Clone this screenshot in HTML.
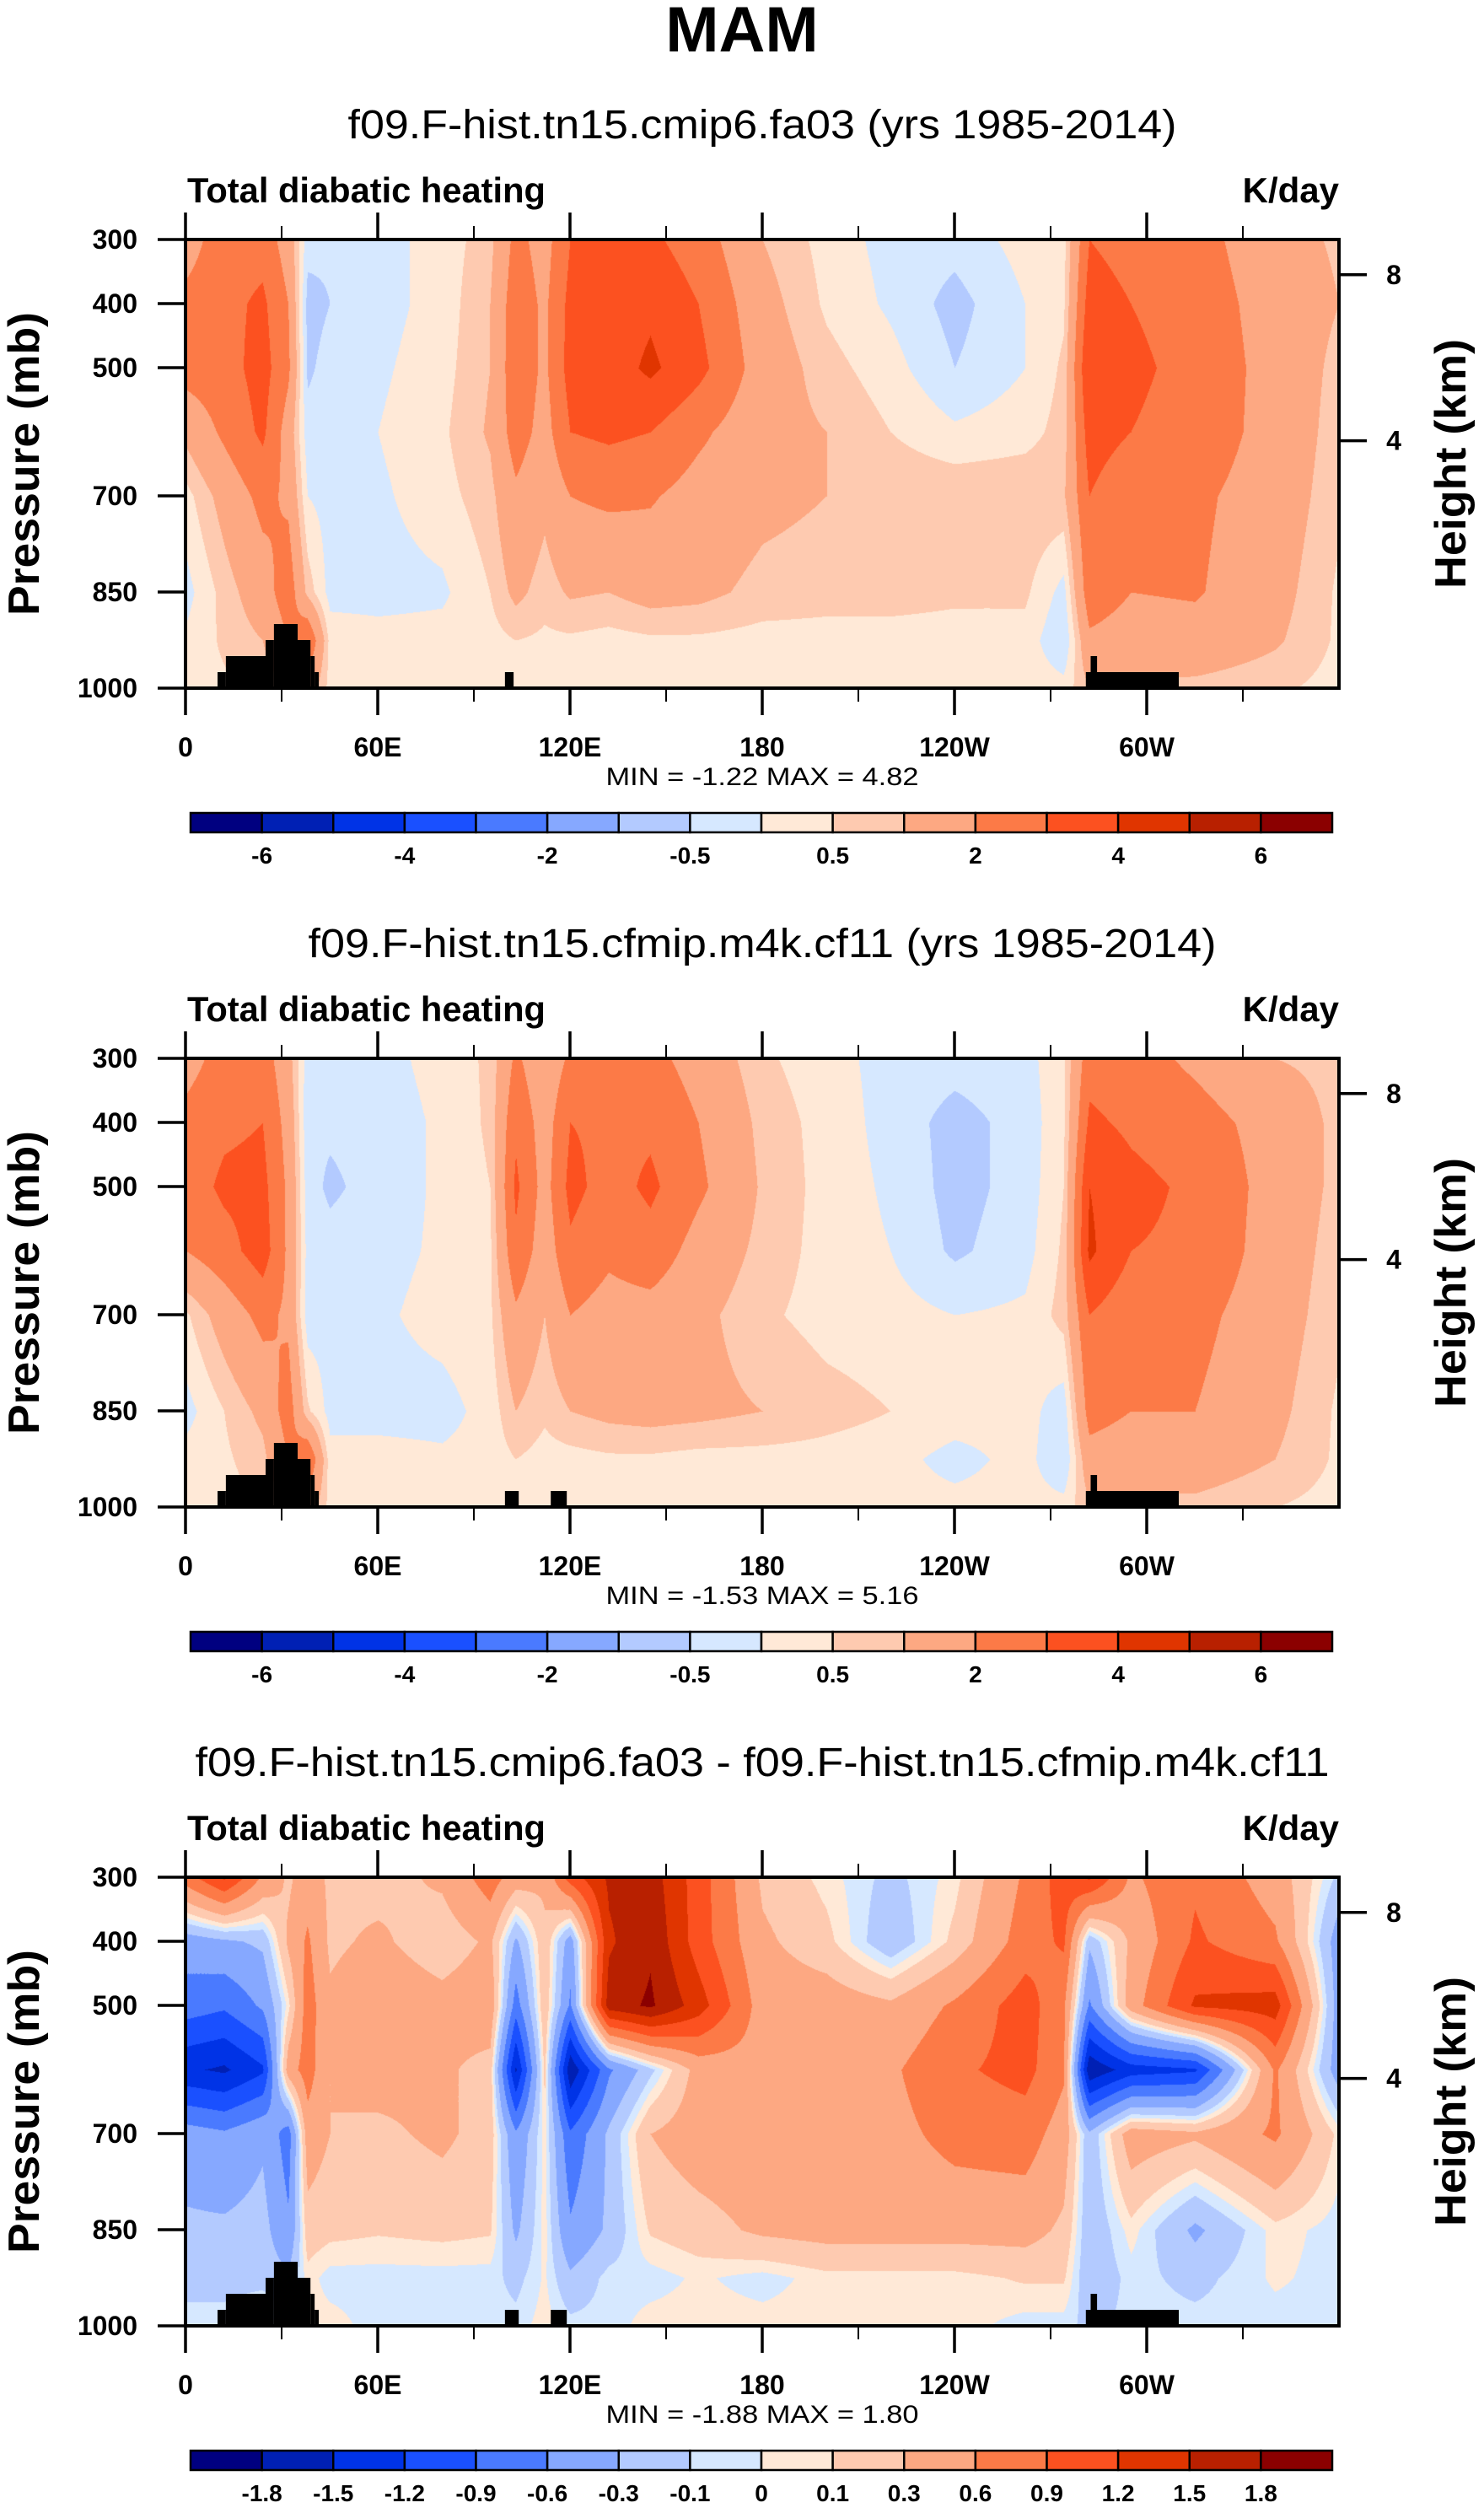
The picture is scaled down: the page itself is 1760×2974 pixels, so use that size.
<!DOCTYPE html>
<html><head><meta charset="utf-8">
<style>
html,body{margin:0;padding:0;background:#fff;}
#root{position:relative;width:1760px;height:2974px;overflow:hidden;background:#fff;}
canvas{position:absolute;}
svg{position:absolute;left:0;top:0;}
text{font-family:"Liberation Sans",Arial,sans-serif;fill:#000;}
</style></head>
<body>
<div id="root">
<canvas id="c0"></canvas>
<canvas id="c1"></canvas>
<canvas id="c2"></canvas>
<svg id="ov" width="1760" height="2974"></svg>
</div>
<script>
// ---- data ----
const lons = [0,12,24,32,38,45,60,80,95,103,112,120,132,145,160,180,200,220,240,262,274,282,295,315,340,360];
const levels = [300,400,500,600,700,850,925,1000];
const dataA = [
[1.5,2.6,2.6,1.5,-0.3,-0.4,-0.2,0.2,0.8,2.3,1.6,3.0,3.2,3.2,2.5,1.0,0.3,-0.2,-0.3,0.2,0.3,3.0,2.6,2.4,1.3,0.9],
[2.3,2.7,3.2,2.0,-0.7,-0.5,-0.2,0.2,1.0,2.6,1.8,3.3,3.4,3.8,3.0,1.3,0.4,-0.1,-0.7,0.0,0.4,3.5,3.0,2.6,1.5,1.0],
[2.4,2.6,3.4,2.2,-0.6,-0.3,-0.1,0.3,1.0,2.7,1.8,3.4,3.5,4.2,3.3,1.5,0.7,0.2,-0.5,0.0,0.6,4.0,3.2,2.7,1.6,0.8],
[1.2,2.2,3.2,1.5,-0.3,-0.2,0.0,0.4,1.1,2.5,1.6,3.0,3.2,3.0,2.2,1.3,1.0,0.5,0.1,0.3,0.7,3.5,3.0,2.6,1.6,0.7],
[0.3,1.3,2.3,1.8,0.0,-0.2,-0.1,0.3,0.8,1.8,1.2,2.0,2.2,2.1,1.6,1.2,1.0,0.9,0.9,0.9,0.9,3.0,2.2,2.2,1.5,0.6],
[-0.2,0.7,1.5,2.6,0.8,-0.2,-0.2,-0.1,0.5,1.2,0.7,1.1,1.0,1.3,1.2,0.8,0.7,0.7,0.6,0.6,-0.2,2.6,2.0,2.1,1.3,0.4],
[0.1,0.6,1.0,2.0,3.0,0.3,0.2,0.2,0.3,0.5,0.4,0.4,0.3,0.4,0.4,0.3,0.3,0.3,0.3,0.3,-0.5,1.8,1.5,1.6,1.1,0.4],
[0.3,0.4,0.6,1.0,1.5,0.3,0.2,0.2,0.2,0.3,0.2,0.2,0.2,0.2,0.2,0.2,0.2,0.2,0.2,0.3,0.2,1.0,0.9,0.8,0.6,0.3]];
const dataB = [
[1.6,2.4,2.5,1.3,-0.3,-0.3,-0.2,0.2,0.6,2.2,1.2,2.2,2.3,2.3,1.6,0.6,0.2,-0.2,-0.3,-0.2,0.4,2.6,2.4,1.8,1.0,0.8],
[2.3,2.8,3.0,1.6,-0.4,-0.4,-0.3,0.1,0.6,2.8,1.5,3.0,2.8,2.8,2.0,0.8,0.3,-0.2,-0.7,-0.3,0.4,3.2,2.8,2.4,1.6,0.8],
[2.5,3.2,3.3,1.8,-0.3,-0.6,-0.3,0.1,0.5,3.2,1.6,3.3,2.6,3.2,2.2,0.9,0.3,-0.1,-0.7,-0.3,0.5,4.0,3.3,2.8,1.6,0.8],
[2.0,2.6,3.5,1.8,-0.2,-0.3,-0.2,0.1,0.4,2.8,1.4,2.8,2.2,2.6,1.6,0.8,0.3,0.0,-0.6,-0.2,0.6,4.2,3.0,2.8,1.5,0.7],
[0.4,1.4,2.3,1.8,-0.3,-0.2,-0.1,0.2,0.4,1.8,1.0,2.0,1.6,1.6,1.2,0.6,0.3,0.2,0.0,0.1,0.7,3.0,2.3,2.3,1.4,0.6],
[-0.2,0.5,1.2,2.5,0.6,-0.2,-0.2,-0.2,0.2,1.0,0.6,1.0,1.2,1.3,1.2,1.0,0.7,0.5,0.3,0.2,-0.3,2.4,2.0,2.0,1.2,0.4],
[0.2,0.4,0.8,2.0,3.0,0.2,0.2,0.1,0.2,0.5,0.3,0.3,0.4,0.4,0.3,0.3,0.3,0.2,-0.2,0.2,-0.5,1.6,1.4,1.5,1.0,0.4],
[0.3,0.3,0.5,0.8,1.5,0.3,0.2,0.2,0.2,0.2,0.2,0.2,0.2,0.2,0.2,0.2,0.2,0.2,0.2,0.2,0.2,0.9,0.8,0.8,0.5,0.3]];
const dataC = [
[0.75,1.25,0.55,0.25,0.45,0.25,0.2,0.35,0.75,0.45,0.35,1.05,1.55,1.65,1.05,0.25,0.05,-0.15,0.05,0.65,1.05,1.25,0.55,0.85,0.45,-0.15],
[-0.45,-0.35,-0.25,0.35,0.65,0.25,0.35,0.15,0.35,-0.35,0.25,-0.45,1.45,1.75,1.05,0.35,0.15,-0.25,0.15,0.75,0.95,-0.25,0.35,0.95,0.65,-0.45],
[-0.75,-0.85,-0.55,0.05,0.75,0.35,0.5,0.4,0.5,-0.75,0.25,-0.65,1.65,1.85,1.35,0.45,0.45,0.35,0.65,1.05,0.65,-0.65,0.45,1.25,1.35,-0.45],
[-1.45,-1.55,-1.25,0.45,0.75,0.3,0.4,0.35,0.2,-1.55,0.15,-1.75,-0.65,-0.15,0.4,0.5,0.5,0.55,0.85,1.0,0.65,-1.75,-1.35,-1.25,0.65,-0.45],
[-0.45,-0.55,-0.35,-0.75,0.45,0.3,0.25,0.35,0.2,-0.55,0.05,-0.85,-0.25,0.3,0.45,0.5,0.5,0.5,0.7,0.75,0.45,-0.25,0.45,0.35,0.65,0.05],
[-0.25,-0.25,-0.2,-0.55,0.2,0.15,0.12,0.15,0.12,-0.35,0.05,-0.55,-0.25,0.12,0.2,0.35,0.4,0.4,0.4,0.4,0.25,-0.25,0.05,-0.35,0.05,-0.05],
[-0.15,-0.15,-0.15,-0.25,0.05,-0.05,-0.05,-0.05,-0.05,-0.15,0.02,-0.25,-0.05,-0.05,0.02,-0.05,0.05,0.05,0.05,0.12,0.12,-0.25,-0.05,-0.15,0.02,-0.05],
[-0.05,-0.05,0.05,-0.05,0.05,0.05,-0.05,-0.05,-0.05,-0.05,0.05,-0.05,-0.05,0.05,0.05,0.05,0.05,0.05,0.05,-0.05,-0.05,-0.15,-0.05,-0.05,-0.05,-0.05]];
const boundsAB = [-6,-5,-4,-3,-2,-1,-0.5,0,0.5,1,2,3,4,5,6];
const boundsC = [-1.8,-1.5,-1.2,-0.9,-0.6,-0.3,-0.1,0,0.1,0.3,0.6,0.9,1.2,1.5,1.8];
const cbLabelsAB = ["","-6","","-4","","-2","","-0.5","","0.5","","2","","4","","6",""];
const cbLabelsC = ["","-1.8","-1.5","-1.2","-0.9","-0.6","-0.3","-0.1","0","0.1","0.3","0.6","0.9","1.2","1.5","1.8",""];
const titles = ["f09.F-hist.tn15.cmip6.fa03 (yrs 1985-2014)","f09.F-hist.tn15.cfmip.m4k.cf11 (yrs 1985-2014)","f09.F-hist.tn15.cmip6.fa03 - f09.F-hist.tn15.cfmip.m4k.cf11"];
const titleWidths = [983,1077,1345];
const minmax = ["MIN =  -1.22  MAX =   4.82","MIN =  -1.53  MAX =   5.16","MIN =  -1.88  MAX =   1.80"];
const maskA = [[10,12.6,975],[12.6,25,950],[25,27.6,925],[27.6,35,900],[35,39,925],[39,40.3,950],[40.3,41.6,975],[99.7,102.4,975],[281,310,975],[282.5,284.5,950]];
const maskB = [[10,12.6,975],[12.6,25,950],[25,27.6,925],[27.6,35,900],[35,39,925],[39,40.3,950],[40.3,41.6,975],[99.7,104,975],[114,119,975],[281,310,975],[282.5,284.5,950]];
const xTickVals = [0,60,120,180,240,300];
const xTickLabels = ["0","60E","120E","180","120W","60W"];
const pTicks = [300,400,500,700,850,1000];
const hTicks = [8,4];
const hTickP = [355,614];
const colors = ['#000080','#0020b4','#0033e6','#1a50ff','#4a7aff','#86a8ff','#b3caff','#d6e8ff','#ffe9d7','#fecab0','#fda882','#fc7a47','#fc5120','#e03500','#b82000','#8b0000'];

// ---- layout ----
const L=220, R=1588, W=R-L, H=532;
const tops=[284,1255,2226];
const NS='http://www.w3.org/2000/svg';
const ov=document.getElementById('ov');
function xs(lon){return L + lon/360*W;}
function ys(T,p){return T + (p-300)/700*H;}
function mk(tag,attrs,parent){const e=document.createElementNS(NS,tag);for(const k in attrs)e.setAttribute(k,attrs[k]);(parent||ov).appendChild(e);return e;}
function txt(s,attrs){const e=mk('text',attrs);e.textContent=s;return e;}

function interp(data,lon,p){
  let i=0; while(i<lons.length-2 && lon>lons[i+1]) i++;
  let j=0; while(j<levels.length-2 && p>levels[j+1]) j++;
  const tx=Math.max(0,Math.min(1,(lon-lons[i])/(lons[i+1]-lons[i])));
  const ty=Math.max(0,Math.min(1,(p-levels[j])/(levels[j+1]-levels[j])));
  const a=data[j][i],b=data[j][i+1],c=data[j+1][i],d=data[j+1][i+1];
  return (a*(1-tx)+b*tx)*(1-ty)+(c*(1-tx)+d*tx)*ty;
}
function hex(c){return [parseInt(c.substr(1,2),16),parseInt(c.substr(3,2),16),parseInt(c.substr(5,2),16)];}
const rgb=colors.map(hex);

const datasets=[dataA,dataB,dataC];
const boundsSet=[boundsAB,boundsAB,boundsC];
const cbLabSet=[cbLabelsAB,cbLabelsAB,cbLabelsC];
const masks=[maskA,maskB,maskB];

txt('MAM',{x:880,y:61,'font-size':76,'font-weight':'bold','text-anchor':'middle',});

for(let k=0;k<3;k++){
  const T=tops[k], data=datasets[k], bounds=boundsSet[k];
  const cv=document.getElementById('c'+k);
  cv.width=W; cv.height=H; cv.style.left=L+'px'; cv.style.top=T+'px';
  const ctx=cv.getContext('2d'); const img=ctx.createImageData(W,H);
  for(let y=0;y<H;y++){const p=300+y/H*700;
    for(let x=0;x<W;x++){const lon=x/W*360; const v=interp(data,lon,p);
      let idx=0; while(idx<bounds.length && v>=bounds[idx]) idx++;
      const c=rgb[idx]; const o=(y*W+x)*4; img.data[o]=c[0];img.data[o+1]=c[1];img.data[o+2]=c[2];img.data[o+3]=255;}}
  ctx.putImageData(img,0,0);
  const g=mk('g',{});
  
  
  masks[k].forEach(m=>{
    const r=mk('rect',{x:xs(m[0]),y:ys(T,m[2]),width:xs(m[1])-xs(m[0]),height:ys(T,1000)-ys(T,m[2]),fill:'#000'},g);
    
    
  });
  const fr=mk('rect',{x:L,y:T,width:W,height:H,fill:'none',stroke:'#000','stroke-width':4},g);
  
  
  for(let lon=0;lon<360;lon+=30){
    const major=lon%60===0, len=major?32:16, sw=major?3.5:2;
    mk('line',{x1:xs(lon),x2:xs(lon),y1:T,y2:T-len,stroke:'#000','stroke-width':sw},g);
    mk('line',{x1:xs(lon),x2:xs(lon),y1:T+H,y2:T+H+len,stroke:'#000','stroke-width':sw},g);
  }
  xTickVals.forEach((v,i)=>{const t=txt(xTickLabels[i],{x:xs(v),y:T+613,'font-size':32,'font-weight':'bold','text-anchor':'middle'});
    
    });
  pTicks.forEach(p=>{mk('line',{x1:L-33,x2:L,y1:ys(T,p),y2:ys(T,p),stroke:'#000','stroke-width':3.5},g);
    const t=txt(String(p),{x:163,y:ys(T,p)+11,'font-size':32,'font-weight':'bold','text-anchor':'end'});
    
    });
  hTicks.forEach((h,i)=>{const y=ys(T,hTickP[i]);mk('line',{x1:R,x2:R+33,y1:y,y2:y,stroke:'#000','stroke-width':3.5},g);
    const t=txt(String(h),{x:1653,y:y+11,'font-size':32,'font-weight':'bold','text-anchor':'middle'});
    
    });
  const st=txt(titles[k],{x:904,y:T-120,'font-size':48,'text-anchor':'middle',textLength:titleWidths[k],lengthAdjust:'spacingAndGlyphs'});
  
  
  const lt=txt('Total diabatic heating',{x:222,y:T-44,'font-size':42,'font-weight':'bold',textLength:425,lengthAdjust:'spacingAndGlyphs'});
  
  
  const ut=txt('K/day',{x:1588,y:T-44,'font-size':42,'font-weight':'bold','text-anchor':'end'});
  
  
  const yt=txt('Pressure (mb)',{x:0,y:0,'font-size':52,'font-weight':'bold','text-anchor':'middle',textLength:360,lengthAdjust:'spacingAndGlyphs',transform:`translate(46,${T+H/2}) rotate(-90)`});
  
  
  const ht=txt('Height (km)',{x:0,y:0,'font-size':52,'font-weight':'bold','text-anchor':'middle',textLength:296,lengthAdjust:'spacingAndGlyphs',transform:`translate(1738,${T+H/2}) rotate(-90)`});
  
  
  const mm=txt(minmax[k],{x:904,y:T+647,'font-size':30,'text-anchor':'middle',textLength:371,lengthAdjust:'spacingAndGlyphs','xml:space':'preserve'});
  
  
  const cx0=226, cx1=1580, bw=(cx1-cx0)/16, cy=T+680;
  for(let i=0;i<16;i++){
    const r=mk('rect',{x:cx0+i*bw,y:cy,width:bw,height:23,fill:colors[i],stroke:'#000','stroke-width':2.5});
    
    
  }
  cbLabSet[k].forEach((s,i)=>{if(!s)return;const t=txt(s,{x:cx0+i*bw,y:T+740,'font-size':28,'font-weight':'bold','text-anchor':'middle'});
    
    });
}
</script>
</body></html>
